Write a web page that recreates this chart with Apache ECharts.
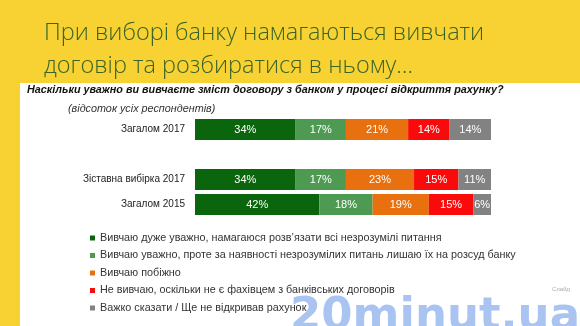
<!DOCTYPE html>
<html>
<head>
<meta charset="utf-8">
<script src="https://cdn.jsdelivr.net/npm/echarts@6/dist/echarts.min.js"></script>
<style>
html,body{margin:0;padding:0;background:#F7D232;}
#chart{width:580px;height:326px;}
</style>
</head>
<body>
<div id="chart"></div>
<script>
const categories = ['Загалом 2017', '', 'Зіставна вибірка 2017', 'Загалом 2015'];
const seriesNames = [
  'Вивчаю дуже уважно, намагаюся розв’язати всі незрозумілі питання',
  'Вивчаю уважно, проте за наявності незрозумілих питань лишаю їх на розсуд банку',
  'Вивчаю побіжно',
  'Не вивчаю, оскільки не є фахівцем з банківських договорів',
  'Важко сказати / Ще не відкривав рахунок'
];
const veryCarefully = [34, '-', 34, 42];
const carefully = [17, '-', 17, 18];
const briefly = [21, '-', 23, 19];
const notStudy = [14, '-', 15, 15];
const hardToSay = [14, '-', 11, 6];
const colors = ['#0A650C', '#4F9A52', '#E8700F', '#FA0A0A', '#828282'];

const values = [veryCarefully, carefully, briefly, notStudy, hardToSay];

const chart = echarts.init(document.getElementById('chart'));
chart.setOption({
  animation: false,
  backgroundColor: '#F7D232',
  grid: {left: 195, right: 89, top: 117, height: 100, containLabel: false},
  xAxis: {type: 'value', min: 0, max: 100, show: false},
  yAxis: {
    type: 'category', data: categories, inverse: true,
    axisLine: {show: false}, axisTick: {show: false},
    axisLabel: {color: '#222', fontSize: 10, fontFamily: 'Liberation Sans, Arial', margin: 10}
  },
  legend: {
    orient: 'vertical', left: 85, top: 227,
    itemWidth: 5, itemHeight: 5, itemGap: 5.5, icon: 'rect',
    textStyle: {color: '#333', fontSize: 10.8, fontFamily: 'Liberation Sans, Arial', lineHeight: 12},
    data: seriesNames
  },
  graphic: [
    {type: 'rect', z: -1, shape: {x: 20, y: 83, width: 560, height: 243}, style: {fill: '#FFFFFF'}},
    {type: 'text', left: 44, top: 21, style: {text: 'При виборі банку намагаються вивчати', fill: '#3A6427', font: '300 23.5px "Open Sans"'}},
    {type: 'text', left: 44, top: 54, style: {text: 'договір та розбиратися в ньому…', fill: '#3A6427', font: '300 23.5px "Open Sans"'}},
    {type: 'text', left: 27, top: 85, style: {text: 'Наскільки уважно ви вивчаєте зміст договору з банком у процесі відкриття рахунку?', fill: '#111', font: 'italic bold 10.8px "Liberation Sans"'}},
    {type: 'text', left: 68, top: 103, style: {text: '(відсоток усіх респондентів)', fill: '#333', font: 'italic 10.8px "Liberation Sans"'}},
    {type: 'text', left: 552, top: 286, style: {text: 'Слайд', fill: '#aaa', font: '6px "Liberation Sans"'}},
    {type: 'text', left: 290, top: 295, z: 10, style: {text: '20minut.ua', fill: 'rgba(160,190,240,0.9)', font: 'bold 45px "DejaVu Sans"'}}
  ],
  series: values.map((v, i) => ({
    name: seriesNames[i], type: 'bar', stack: 'total', data: v,
    barCategoryGap: '16%',
    itemStyle: {color: colors[i]},
    label: {show: true, position: 'inside', color: '#fff', fontSize: 11, fontFamily: 'Liberation Sans, Arial', formatter: '{c}%'}
  }))
});
</script>
</body>
</html>
